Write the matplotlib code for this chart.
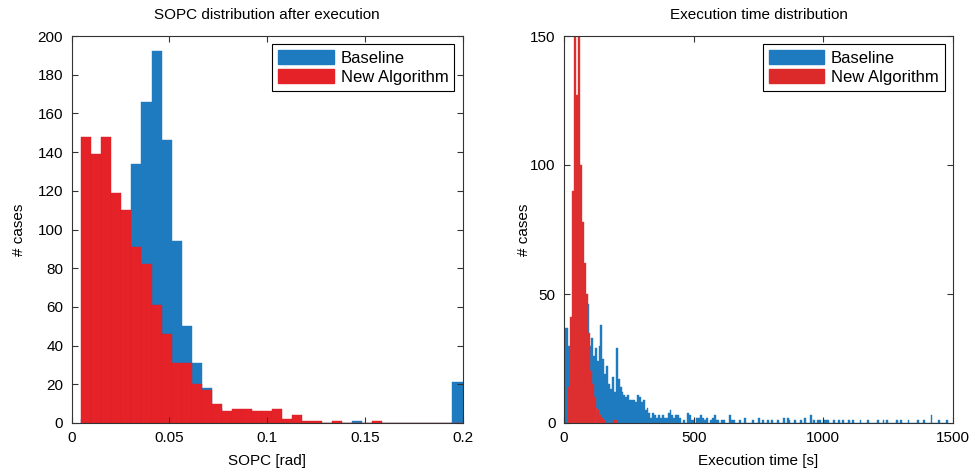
import numpy as np
import matplotlib
matplotlib.use("Agg")
import matplotlib.pyplot as plt
from matplotlib.patches import Patch

plt.rcParams['font.family'] = ['Liberation Sans', 'DejaVu Sans']

# ---------------- data ----------------
# Left panel: SOPC histogram (38 bins from 0.005 to 0.2 rad)
sopc_range = (0.005, 0.2)
sopc_baseline = [2, 10, 30, 60, 95, 134, 166, 192, 146, 94,
                 50, 31, 18, 8, 4, 3, 2, 2, 1, 1,
                 0, 0, 0, 0, 0, 0, 0, 1, 0, 0,
                 0, 0, 0, 0, 0, 0, 0, 21]
sopc_new = [148, 139, 148, 119, 110, 91, 82, 61, 46, 31,
            31, 20, 17, 10, 6, 7, 7, 6, 6, 7,
            2, 4, 1, 1, 0, 1, 0, 0, 0, 1,
            0, 0, 0, 0, 0, 0, 0, 0]

# Right panel: execution time histogram
time_base_start = 0.0
time_base_width = 7.4
time_baseline = [
    37, 37, 30, 22, 26, 30, 34, 38, 40, 42,
    44, 40, 46, 30, 33, 26, 29, 24, 30, 38,
    25, 19, 22, 15, 13, 18, 12, 29, 17, 14,
    12, 11, 10, 11, 9, 9, 9, 8, 11, 10,
    8, 9, 5, 6, 4, 2, 4, 3, 2, 3,
    2, 3, 2, 2, 4, 5, 3, 2, 3, 3,
    2, 0, 1, 0, 4, 3, 1, 1, 0, 2,
    2, 3, 2, 1, 2, 0, 1, 2, 3, 1,
    1, 0, 1, 1, 0, 0, 3, 1, 1, 0,
    0, 1, 0, 0, 2, 0, 0, 0, 1, 0,
    0, 2, 0, 1, 0, 0, 1, 0, 1, 0,
    0, 1, 0, 0, 2, 0, 2, 1, 0, 0,
    1, 0, 0, 1, 0, 2, 0, 0, 3, 0,
    1, 0, 1, 1, 0, 1, 1, 1, 0, 0,
    1, 0, 0, 1, 0, 1, 0, 0, 1, 0,
    1, 0, 0, 0, 1, 0, 0, 0, 1, 0,
    0, 0, 0, 1, 0, 0, 1, 0, 1, 0,
    0, 0, 0, 1, 0, 1, 0, 0, 0, 1,
    0, 0, 0, 0, 1, 0, 0, 1, 0, 0,
    0, 3, 0, 0, 0, 1, 0, 0, 0, 1,
]
time_new_start = 16.5
time_new_width = 7.5
time_new = [14, 41, 90, 165, 127, 160, 100, 78, 62, 50,
            35, 20, 15, 10, 6, 5, 3, 2, 1, 0,
            0, 0, 0, 1, 1]

labels = ['Baseline', 'New Algorithm']
blue = '#1f7bbf'
red_l = '#e62229'
red_r = '#dc2a2a'

# ---------------- figure ----------------
fig = plt.figure(figsize=(9.77, 4.70), dpi=100)
axL = fig.add_axes([71.5 / 977, 47 / 470, 391 / 977, 387 / 470])
axR = fig.add_axes([564 / 977, 47 / 470, 389 / 977, 387 / 470])

fs = 11

# left histogram
edgesL = np.linspace(sopc_range[0], sopc_range[1], len(sopc_baseline) + 1)
axL.bar(edgesL[:-1], sopc_baseline, width=np.diff(edgesL), align='edge',
        color=blue, edgecolor=blue, linewidth=0.3)
axL.bar(edgesL[:-1], sopc_new, width=np.diff(edgesL), align='edge',
        color=red_l, edgecolor='#d81f26', linewidth=0.3)
axL.set_xlim(0, 0.2)
axL.set_ylim(0, 200)
axL.set_xticks([0, 0.05, 0.1, 0.15, 0.2])
axL.set_xticklabels(['0', '0.05', '0.1', '0.15', '0.2'])
axL.set_yticks(np.arange(0, 201, 20))
axL.set_title('SOPC distribution after execution', fontsize=fs, pad=12)
axL.set_xlabel('SOPC [rad]', fontsize=fs, labelpad=6)
axL.set_ylabel('# cases', fontsize=fs)
axL.yaxis.set_label_coords(-0.116, 0.5)

# right histogram
edgesB = time_base_start + time_base_width * np.arange(len(time_baseline) + 1)
edgesN = time_new_start + time_new_width * np.arange(len(time_new) + 1)
axR.bar(edgesB[:-1], time_baseline, width=time_base_width, align='edge',
        color=blue, edgecolor=blue, linewidth=0.3)
axR.bar(edgesN[:-1], time_new, width=time_new_width, align='edge',
        color=red_r, edgecolor='#e04040', linewidth=0.3)
axR.set_xlim(0, 1500)
axR.set_ylim(0, 150)
axR.set_xticks([0, 500, 1000, 1500])
axR.set_yticks([0, 50, 100, 150])
axR.set_title('Execution time distribution', fontsize=fs, pad=12)
axR.set_xlabel('Execution time [s]', fontsize=fs, labelpad=6)
axR.set_ylabel('# cases', fontsize=fs)
axR.yaxis.set_label_coords(-0.084, 0.5)

for ax, rc in ((axL, red_l), (axR, red_r)):
    ax.tick_params(direction='in', top=True, right=True, length=4,
                   width=0.8, labelsize=fs, color='#333333', pad=6)
    for s in ax.spines.values():
        s.set_linewidth(0.8)
        s.set_color('#333333')
    handles = [Patch(facecolor=blue, edgecolor=blue),
               Patch(facecolor=rc, edgecolor=rc)]
    leg = ax.legend(handles, labels, loc='upper right', fontsize=12,
                    fancybox=False, framealpha=1, edgecolor='black',
                    handlelength=3.35, handleheight=0.9, handletextpad=0.4,
                    borderpad=0.35, labelspacing=0.2, borderaxespad=0.5)
    leg.get_frame().set_linewidth(0.8)

fig.savefig('out.png', dpi=100)
